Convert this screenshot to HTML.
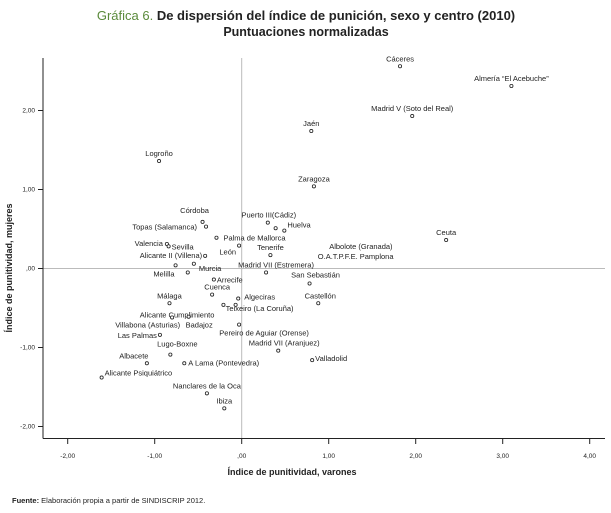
<!DOCTYPE html>
<html><head><meta charset="utf-8"><style>
body{margin:0;background:#fff}
svg{display:block;font-family:"Liberation Sans",sans-serif}
</style></head><body>
<svg id="chart" width="611" height="513" viewBox="0 0 611 513">
<text x="306" y="20" text-anchor="middle" font-size="13"><tspan fill="#5a8a3a">Gráfica 6.</tspan><tspan fill="#222" font-weight="bold"> De dispersión del índice de punición, sexo y centro (2010)</tspan></text>
<text x="306" y="36" text-anchor="middle" font-size="12.5" font-weight="bold" fill="#222">Puntuaciones normalizadas</text>
<g id="axes"></g>
<g id="marks"></g>
<text x="292" y="475" text-anchor="middle" font-size="9" font-weight="bold" fill="#222">Índice de punitividad, varones</text>
<text transform="translate(12,268) rotate(-90)" text-anchor="middle" font-size="9" font-weight="bold" fill="#222">Índice de punitividad, mujeres</text>
<text x="12" y="503" font-size="7.5" fill="#222"><tspan font-weight="bold">Fuente:</tspan> Elaboración propia a partir de SINDISCRIP 2012.</text>
</svg>
<script>
const names = ["Cáceres","Almería “El Acebuche”","Madrid V (Soto del Real)","Jaén","Logroño","Zaragoza","Córdoba","Topas (Salamanca)","Valencia","Sevilla","Alicante II (Villena)","Palma de Mallorca","León","Puerto III(Cádiz)","","Huelva","Tenerife","Madrid VII (Estremera)","Albolote (Granada)","O.A.T.P.F.E. Pamplona","Ceuta","Melilla","Murcia","","Arrecife","San Sebastián","Cuenca","Castellón","Málaga","Algeciras","Teixeiro (La Coruña)","","Alicante Cumplimiento","Villabona (Asturias)","Badajoz","Pereiro de Aguiar (Orense)","Madrid VII (Aranjuez)","Las Palmas","Lugo-Boxne","Valladolid","Albacete","A Lama (Pontevedra)","Alicante Psiquiátrico","Nanclares de la Oca","Ibiza"];
const xValues = [1.82,3.10,1.96,0.80,-0.95,0.83,-0.45,-0.41,-0.86,-0.84,-0.42,-0.29,-0.03,0.30,0.39,0.49,0.33,0.28,1.37,1.31,2.35,-0.76,-0.55,-0.62,-0.32,0.78,-0.34,0.88,-0.83,-0.04,-0.07,-0.21,-0.80,-0.80,-0.61,-0.03,0.42,-0.94,-0.82,0.81,-1.09,-0.66,-1.61,-0.40,-0.20];
const yValues = [2.56,2.31,1.93,1.74,1.36,1.04,0.59,0.53,0.31,0.28,0.16,0.39,0.29,0.58,0.51,0.48,0.17,-0.05,0.25,0.12,0.36,0.04,0.06,-0.05,-0.14,-0.19,-0.33,-0.44,-0.44,-0.38,-0.46,-0.46,-0.62,-0.62,-0.61,-0.71,-1.04,-0.84,-1.09,-1.16,-1.20,-1.20,-1.38,-1.58,-1.77];
const hiddenMarker = [0,0,0,0,0,0,0,0,0,0,0,0,0,0,0,0,0,0,1,1,0,0,0,0,0,0,0,0,0,0,0,0,1,0,0,0,0,0,0,0,0,0,0,0,0];
const xTicks = [-2,-1,0,1,2,3,4];
const xTickLabels = ["-2,00","-1,00",",00","1,00","2,00","3,00","4,00"];
const yTicks = [2,1,0,-1,-2];
const yTickLabels = ["2,00","1,00",",00","-1,00","-2,00"];
// label layout: [dx, dy, anchor]
const labelLayout = [[0,-5,"middle"],[0,-5,"middle"],[0,-5,"middle"],[0,-5,"middle"],[0,-5,"middle"],[0,-5,"middle"],[-8,-9,"middle"],[-9,3,"end"],[-4,2,"end"],[3,3,"start"],[-3,2,"end"],[7,3,"start"],[-3,9,"end"],[1,-5,"middle"],[0,0,"start"],[3,-3,"start"],[0,-5,"middle"],[10,-5,"middle"],[0,0,"middle"],[0,0,"middle"],[0,-5,"middle"],[-1,11,"end"],[5,7,"start"],[0,0,"start"],[3,3,"start"],[6,-6,"middle"],[5,-5,"middle"],[2,-5,"middle"],[0,-5,"middle"],[6,1,"start"],[-10,6,"start"],[0,0,"start"],[5,0,"middle"],[8,10,"end"],[-3,11,"start"],[25,11,"middle"],[6,-5,"middle"],[-3,3,"end"],[7,-8,"middle"],[3,1,"start"],[-13,-5,"middle"],[4,2,"start"],[3,-2,"start"],[0,-5,"middle"],[0,-5,"middle"]];

const X0=241.7, XU=87, Y0=268.5, YU=79;
const sx = v => X0 + v*XU;
const sy = v => Y0 - v*YU;
const NS="http://www.w3.org/2000/svg";
const axes=document.getElementById('axes'), marks=document.getElementById('marks');
function mk(tag, attrs, parent){const e=document.createElementNS(NS,tag);for(const k in attrs)e.setAttribute(k,attrs[k]);parent.appendChild(e);return e;}

let e;
e=mk('line',{x1:sx(0),y1:58,x2:sx(0),y2:438,stroke:'#bbb','stroke-width':1},axes);


e=mk('line',{x1:43,y1:sy(0),x2:605,y2:sy(0),stroke:'#bbb','stroke-width':1},axes);


e=mk('line',{x1:43,y1:58,x2:43,y2:438.5,stroke:'#222','stroke-width':1},axes);


e=mk('line',{x1:43,y1:438.5,x2:605,y2:438.5,stroke:'#222','stroke-width':1},axes);


xTicks.forEach((t,i)=>{
  let l=mk('line',{x1:sx(t),y1:438.5,x2:sx(t),y2:444,stroke:'#222','stroke-width':1},axes);
  
  
  let tx=mk('text',{x:sx(t),y:458,'text-anchor':'middle','font-size':6.5,fill:'#222'},axes);
  tx.textContent=xTickLabels[i];
  
  
});
yTicks.forEach((t,i)=>{
  let l=mk('line',{x1:38,y1:sy(t),x2:43,y2:sy(t),stroke:'#222','stroke-width':1},axes);
  
  
  let tx=mk('text',{x:35,y:sy(t)+2,'text-anchor':'end','font-size':6.5,fill:'#222'},axes);
  tx.textContent=yTickLabels[i];
  
  
});
names.forEach((n,i)=>{
  const cx=sx(xValues[i]), cy=sy(yValues[i]);
  if(!hiddenMarker[i]){
    let c=mk('circle',{cx:cx,cy:cy,r:1.6,fill:'#fff',stroke:'#222','stroke-width':0.8},marks);
    
    
  }
  if(n){
    const L=labelLayout[i];
    let t=mk('text',{x:cx+L[0],y:cy+L[1],'text-anchor':L[2],'font-size':7.5,fill:'#222'},marks);
    t.textContent=n;
    
    
  }
});
</script>
</body></html>
